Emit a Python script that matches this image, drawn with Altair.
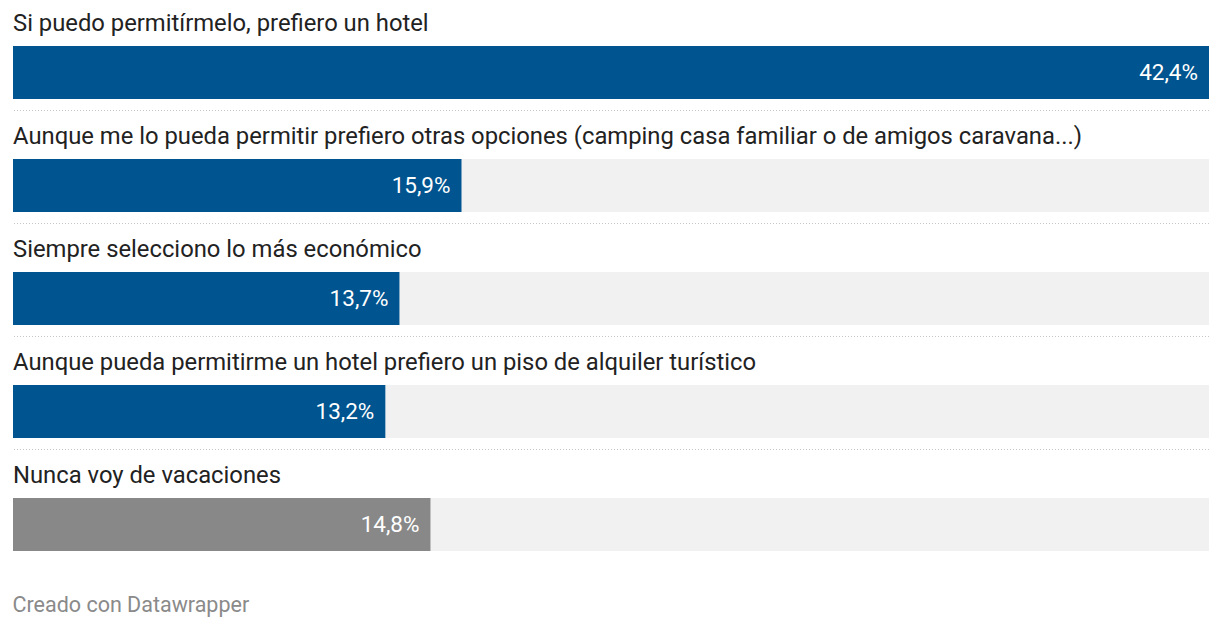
import altair as alt
import pandas as pd

categories = [
    "Si puedo permitírmelo, prefiero un hotel",
    "Aunque me lo pueda permitir prefiero otras opciones (camping casa familiar o de amigos caravana...)",
    "Siempre selecciono lo más económico",
    "Aunque pueda permitirme un hotel prefiero un piso de alquiler turístico",
    "Nunca voy de vacaciones",
]
values = [42.4, 15.9, 13.7, 13.2, 14.8]
labels = ["42,4%", "15,9%", "13,7%", "13,2%", "14,8%"]

df = pd.DataFrame({"cat": categories, "value": values, "label": labels, "idx": list(range(len(categories)))})

W = 1196
STEP = 113

base = alt.Chart(df).transform_joinaggregate(mx="max(value)")

y = alt.Y("cat:N", sort=None, axis=None,
          scale=alt.Scale(paddingInner=0, paddingOuter=0))
xs = alt.Scale(domain=[0, 42.4], nice=False, zero=True)

track = base.mark_bar(size=53, yOffset=8, color="#f1f1f1").encode(
    y=y, x=alt.X("mx:Q", scale=xs, axis=None), x2=alt.datum(0)
)

bars = base.mark_bar(size=53, yOffset=8).encode(
    y=y,
    x=alt.X("value:Q", scale=xs, axis=None),
    color=alt.condition(alt.datum.cat == "Nunca voy de vacaciones",
                        alt.value("#888888"), alt.value("#00548f")),
)

vals = base.mark_text(align="right", baseline="middle", dx=-11, yOffset=8,
                      font="Roboto", fontSize=22.5, color="white").encode(
    y=y, x=alt.X("value:Q", scale=xs, axis=None), text="label:N"
)

cats = base.mark_text(align="left", baseline="middle", yOffset=-41,
                      font="Roboto", fontSize=23.8, color="#222222").encode(
    y=y, x=alt.value(0), text="cat:N"
)

seps = base.transform_filter("datum.idx < 4").mark_rule(
    yOffset=46, color="#c8c8c8", strokeDash=[1, 2], strokeWidth=1
).encode(y=y, x=alt.X("mx:Q", scale=xs, axis=None), x2=alt.datum(0))

chart = alt.layer(track, bars, vals, cats, seps).properties(
    width=W,
    height=alt.Step(STEP),
    padding={"left": 4, "top": 0, "right": 0, "bottom": 0},
    title=alt.TitleParams("Creado con Datawrapper", orient="bottom", anchor="start",
                          font="Roboto", fontSize=21.5, fontWeight="normal",
                          color="#8a8a8a", offset=22),
).configure_view(stroke=None)

chart.save("out.html", embed_options={"renderer": "svg", "actions": False})
